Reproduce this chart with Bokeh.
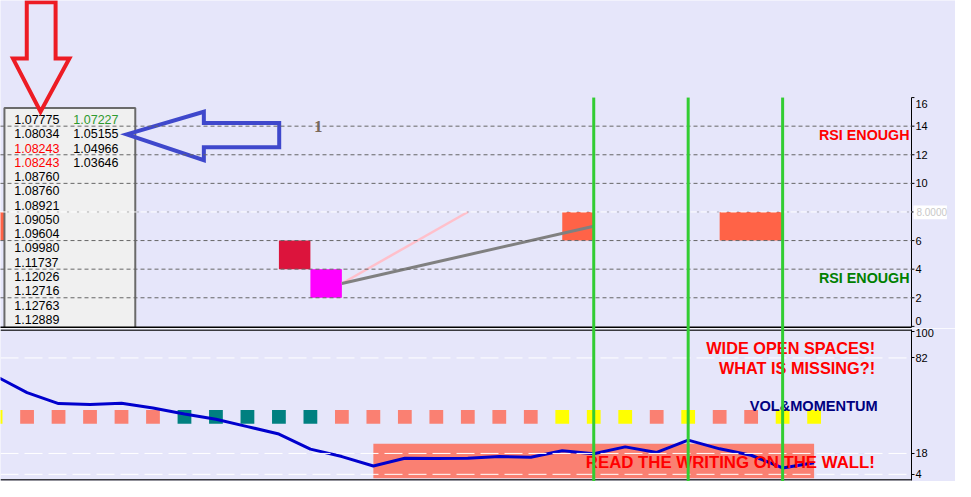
from bokeh.plotting import figure
from bokeh.models import Range1d, Span, FixedTicker
from bokeh.layouts import column
from bokeh.embed import file_html
from bokeh.resources import INLINE
from bokeh.core.properties import value

# ---------------- data ----------------
# price table (left panel)
table_col1 = ["1.07775", "1.08034", "1.08243", "1.08243", "1.08760", "1.08760",
              "1.08921", "1.09050", "1.09604", "1.09980", "1.11737", "1.12026",
              "1.12716", "1.12763", "1.12889"]
table_col1_colors = ["black", "black", "red", "red"] + ["black"] * 11
table_col2 = ["1.07227", "1.05155", "1.04966", "1.03646"]
table_col2_colors = ["#2E9A2E", "black", "black", "black"]

# bar index of the visible bars
bars = list(range(-1, 26))

# lower pane: momentum line (0..100 scale)
momentum = [69.9, 58.8, 51.4, 50.8, 51.6, 48.4, 44.5, 40.9, 36.0, 31.0, 20.9,
            15.9, 9.6, 14.8, 14.6, 14.8, 15.9, 15.4, 19.8, 17.8, 22.4, 18.7,
            26.9, 21.1, 16.8, 8.3, 11.8]
# lower pane: vol & momentum state dots
SAL, TEAL, YEL = "#FA8072", "#008080", "#FFFF00"
state_colors = [YEL] + [SAL] * 5 + [TEAL] * 5 + [SAL] * 7 + [YEL] * 3 + \
               [SAL, YEL, SAL, SAL, YEL, YEL]
state_level = 42.5

# lower pane zone rectangle
zone_bar_from, zone_bar_to = 11, 25
zone_low, zone_high = 1.4, 24.5

# upper pane (0..16 scale) signal boxes
box_left = [-1, 8, 9, 17, 22]
box_right = [1, 9, 10, 18, 24]
box_bottom = [6, 4, 2, 6, 6]
box_top = [8, 6, 4, 8, 8]
box_colors = ["#FF6347", "#DC143C", "#FF00FF", "#FF6347", "#FF6347"]

# trend lines (bar, value) pairs
gray_line_x, gray_line_y = [10, 18], [3, 7]
pink_line_x, pink_line_y = [10, 14], [3, 8]

# vertical signal lines
signal_bars = [18, 21, 24]

# levels
upper_levels = [2, 4, 6, 10, 12, 14]
upper_mid_level = 8
upper_mid_label = "8.0000"
lower_levels = [82, 18, 4]
upper_ticks = [0, 2, 4, 6, 8, 10, 12, 14, 16]
upper_tick_labels = ["0", "2", "4", "6", "", "10", "12", "14", "16"]
lower_ticks = [4, 18, 82, 100]

BG = "#E6E6FA"
FONT = value("Liberation Sans")

# ---------------- geometry helpers (reference pixels -> data units) ----------------
px_per_bar = 32.0
px_per_unit = 14.78
def kx(px):
    return (px - 27.0) / px_per_bar
def vy(py):
    return (336.8 - py) / px_per_unit
def lv(py):
    return (495.4 - py) / 1.5375

W = 955
AXW = 44
x0, x1 = kx(0), kx(926)
bot_xr = Range1d(x0, x1)
top_xr = Range1d(x0, x0 + (x1 - x0) * W / (W - AXW))
y_bottom = vy(339)

top = figure(width=W, height=328, x_range=top_xr, y_range=Range1d(y_bottom, vy(0)),
             output_backend="svg", toolbar_location=None,
             x_axis_location=None, y_axis_location=None,
             min_border_left=0, min_border_right=0, min_border_top=0, min_border_bottom=0,
             background_fill_color=BG, border_fill_color=BG, outline_line_color=None)
top.grid.visible = False

bot = figure(width=W, height=153, x_range=bot_xr, y_range=Range1d(lv(495.6), lv(340)),
             output_backend="svg", toolbar_location=None,
             x_axis_location=None, y_axis_location="right",
             min_border_left=0, min_border_right=AXW, min_border_top=1, min_border_bottom=1,
             background_fill_color=BG, border_fill_color=BG, outline_line_color=None)
bot.grid.visible = False
for p in (top, bot):
    if "frame_align" in p.properties():
        p.frame_align = False

ax = bot.yaxis[0]
ax.ticker = FixedTicker(ticks=lower_ticks)
ax.axis_line_color = "black"
ax.major_tick_out = 3
ax.major_tick_in = 0
ax.minor_tick_line_color = None
ax.major_label_standoff = 1
ax.major_label_text_font = "Liberation Sans"
ax.major_label_text_font_size = "11px"
ax.major_label_text_color = "black"

# ---------------- upper pane ----------------
top.quad(left=box_left, right=box_right, bottom=box_bottom, top=box_top,
         fill_color=box_colors, line_color=None)
top.line(pink_line_x, pink_line_y, line_color="#FFC0CB", line_width=2.5)
top.line(gray_line_x, gray_line_y, line_color="#808080", line_width=3)

# table panel
top.quad(left=[kx(4)], right=[kx(137)], bottom=[y_bottom - 1], top=[vy(111)],
         fill_color="#F0F0F0", line_color="#6A6A6A", line_width=2)
row_y = [vy(123.0 + 14.75 * i) for i in range(len(table_col1))]
top.text(x=[kx(14)] * len(table_col1), y=row_y, text=table_col1,
         text_color=table_col1_colors, text_font=FONT, text_font_size="12.5px",
         text_baseline="middle", text_align="left")
top.text(x=[kx(74)] * len(table_col2), y=row_y[:len(table_col2)], text=table_col2,
         text_color=table_col2_colors, text_font=FONT, text_font_size="12.5px",
         text_baseline="middle", text_align="left")

# level lines (stop at the price axis)
n = len(upper_levels)
top.segment(x0=[x0] * n, x1=[x1] * n, y0=upper_levels, y1=upper_levels,
            line_color="#666666", line_width=1, line_dash="4 3", level="annotation")
top.segment(x0=[x0], x1=[x1], y0=[upper_mid_level], y1=[upper_mid_level],
            line_color="white", line_width=1, line_dash="6 4", level="annotation")
top.segment(x0=[x0], x1=[x1], y0=[upper_mid_level], y1=[upper_mid_level],
            line_color="#777777", line_width=1, line_dash="1 9", line_dash_offset=-7,
            level="annotation")
# pane bottom border
top.segment(x0=[x0], x1=[x1], y0=[vy(337.6)], y1=[vy(337.6)],
            line_color="black", line_width=1.5, level="annotation")

# arrows (annotation drawings)
top.patch([kx(26.7), kx(56), kx(56), kx(70), kx(40.7), kx(12.7), kx(26.7)],
          [vy(1.7), vy(1.7), vy(60), vy(60), vy(115), vy(60), vy(60)],
          fill_color=None, line_color="#ED1C24", line_width=4, line_join="miter")
top.patch([kx(128.3), kx(206.7), kx(206.7), kx(283.3), kx(283.3), kx(206.7), kx(206.7)],
          [vy(138.3), vy(115), vy(126.7), vy(126.7), vy(151.7), vy(151.7), vy(165)],
          fill_color=None, line_color="#3F48CC", line_width=4, line_join="miter")

# texts
top.text(x=[9.25], y=[14], text=["1"], text_color="#7A6A5A",
         text_font=value("Liberation Serif"), text_font_style="bold",
         text_font_size="17px", text_align="center", text_baseline="alphabetic")
top.text(x=[kx(924)], y=[vy(139)], text=["RSI ENOUGH"], text_color="#FF0000",
         text_font=FONT, text_font_style="bold", text_font_size="14.3px",
         text_align="right", text_baseline="middle")
top.text(x=[kx(924)], y=[vy(286.7)], text=["RSI ENOUGH"], text_color="#008000",
         text_font=FONT, text_font_style="bold", text_font_size="14.3px",
         text_align="right", text_baseline="middle")

# price-scale of the upper pane (terminal style: end labels kept inside the pane)
xa = kx(926)
top.segment(x0=[xa], x1=[xa], y0=[vy(337.8)], y1=[16], line_color="black", line_width=1)
top.segment(x0=[xa] * len(upper_ticks), x1=[kx(929)] * len(upper_ticks),
            y0=upper_ticks, y1=upper_ticks, line_color="black", line_width=1)
label_y = [max(min(t, vy(107)), vy(331.7)) for t in upper_ticks]
top.text(x=[kx(930)] * len(upper_ticks), y=label_y, text=upper_tick_labels,
         text_color="black", text_font=FONT, text_font_size="11px",
         text_baseline="middle", text_align="left")
top.quad(left=[kx(928)], right=[kx(962)], bottom=[vy(226)], top=[vy(212)],
         fill_color="white", line_color=None)
top.text(x=[kx(931)], y=[upper_mid_level], text=[upper_mid_label],
         text_color="#C8C8C8", text_font=FONT, text_font_size="10px",
         text_baseline="middle", text_align="left")

# signal lines
top.segment(x0=signal_bars, y0=[16] * 3, x1=signal_bars, y1=[y_bottom - 1] * 3,
            line_color="#32CD32", line_width=3, level="overlay")

# ---------------- lower pane ----------------
bot.quad(left=[zone_bar_from], right=[zone_bar_to], bottom=[zone_low], top=[zone_high],
         fill_color="#FA8072", line_color=None)
sq_w = 14 / px_per_bar
sq_h = 14 / 1.5375
bot.rect(x=bars, y=[state_level] * len(bars), width=sq_w, height=sq_h,
         fill_color=state_colors, line_color=None)
bot.line(bars, momentum, line_color="#0000CD", line_width=3)
for lvl in lower_levels:
    bot.add_layout(Span(location=lvl, dimension="width", line_color="white",
                        line_width=1, line_dash="18 6"))
bot.add_layout(Span(location=lv(340.4), dimension="width", line_color="black", line_width=1.5))
bot.add_layout(Span(location=lv(495.0), dimension="width", line_color="black", line_width=1.5))

bot.text(x=[kx(889)], y=[lv(359.3)], text=["WIDE OPEN SPACES!"], text_color="#FF0000",
         text_font=FONT, text_font_style="bold", text_font_size="16.3px",
         text_align="right", text_baseline="middle")
bot.text(x=[kx(889)], y=[lv(379.3)], text=["WHAT IS MISSING?!"], text_color="#FF0000",
         text_font=FONT, text_font_style="bold", text_font_size="16.3px",
         text_align="right", text_baseline="middle")
bot.text(x=[kx(891.7)], y=[lv(419)], text=["VOL&MOMENTUM"], text_color="#000080",
         text_font=FONT, text_font_style="bold", text_font_size="14.6px",
         text_align="right", text_baseline="middle")
bot.text(x=[kx(595)], y=[lv(477.3)], text=["READ THE WRITING ON THE WALL!"], text_color="#FF0000",
         text_font=FONT, text_font_style="bold", text_font_size="16.8px",
         text_align="left", text_baseline="middle")

bot.segment(x0=signal_bars, y0=[-5] * 3, x1=signal_bars, y1=[110] * 3,
            line_color="#32CD32", line_width=3, level="overlay")

layout = column(top, bot, spacing=0)
open("out.html", "w").write(file_html(layout, INLINE))
